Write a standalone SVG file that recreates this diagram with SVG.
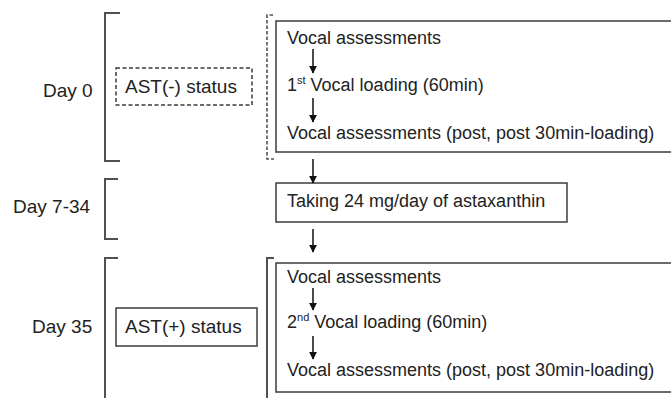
<svg xmlns="http://www.w3.org/2000/svg" width="671" height="398" viewBox="0 0 671 398">
<defs>
<style>
text{font-family:"Liberation Sans",Arial,sans-serif;fill:#222}
.lbl{font-size:19px}
.t{font-size:18px}
.sup{font-size:11px}
.box{fill:#fff;stroke:#3c3c3c;stroke-width:1.5}
.dbox{fill:#fff;stroke:#3c3c3c;stroke-width:1.5;stroke-dasharray:4 2.5}
.br{fill:none;stroke:#505050;stroke-width:2}
.dbr{fill:none;stroke:#505050;stroke-width:1.6;stroke-dasharray:3.5 2}
.ar{stroke:#111;stroke-width:1.5;fill:none;marker-end:url(#ah)}
</style>
<marker id="ah" viewBox="0 0 10 10" refX="9" refY="5" markerWidth="8" markerHeight="8" markerUnits="userSpaceOnUse" orient="auto">
<path d="M0,0 L10,5 L0,10 Z" fill="#111"/>
</marker>
</defs>

<g id="day0">
<text class="lbl" x="43" y="97">Day 0</text>
<path class="br" d="M120,13 H105 V161 H120"/>
</g>
<g id="day7-34">
<text class="lbl" x="13" y="213">Day 7-34</text>
<path class="br" d="M118,179 H105 V239 H118"/>
</g>
<g id="day35">
<text class="lbl" x="32" y="333">Day 35</text>
<path class="br" d="M118,258 H105 V400"/>
</g>

<g id="ast-minus">
<rect class="dbox" x="116" y="68" width="136" height="37"/>
<text class="lbl" x="125" y="93">AST(-) status</text>
</g>
<g id="ast-plus">
<rect class="box" x="116" y="308" width="141" height="38"/>
<text class="lbl" x="125" y="333">AST(+) status</text>
</g>

<g id="bracket-day0">
<path class="dbr" d="M273,15 H267 V159 H274"/>
</g>
<g id="bracket-day35">
<path class="br" d="M274,258 H267 V400"/>
</g>

<g id="session1">
<rect class="box" x="276" y="21" width="400" height="131"/>
<text class="t" x="287" y="44">Vocal assessments</text>
<text class="t" x="287" y="91">1<tspan class="sup" dy="-7">st</tspan><tspan dy="7"> Vocal loading (60min)</tspan></text>
<text class="t" x="287" y="139">Vocal assessments (post, post 30min-loading)</text>
</g>
<g id="taking">
<rect class="box" x="276" y="183" width="291" height="39"/>
<text class="t" x="287" y="207">Taking 24 mg/day of astaxanthin</text>
</g>
<g id="session2">
<rect class="box" x="276" y="263" width="400" height="129"/>
<text class="t" x="287" y="283">Vocal assessments</text>
<text class="t" x="287" y="328">2<tspan class="sup" dy="-7">nd</tspan><tspan dy="7"> Vocal loading (60min)</tspan></text>
<text class="t" x="287" y="376">Vocal assessments (post, post 30min-loading)</text>
</g>

<g id="connectors">
<line class="ar" x1="313" y1="49" x2="313" y2="73"/>
<line class="ar" x1="313" y1="98" x2="313" y2="122"/>
<line class="ar" x1="313" y1="159" x2="313" y2="183"/>
<line class="ar" x1="313" y1="229" x2="313" y2="252"/>
<line class="ar" x1="313" y1="288" x2="313" y2="310"/>
<line class="ar" x1="313" y1="336" x2="313" y2="359"/>
</g>
</svg>
